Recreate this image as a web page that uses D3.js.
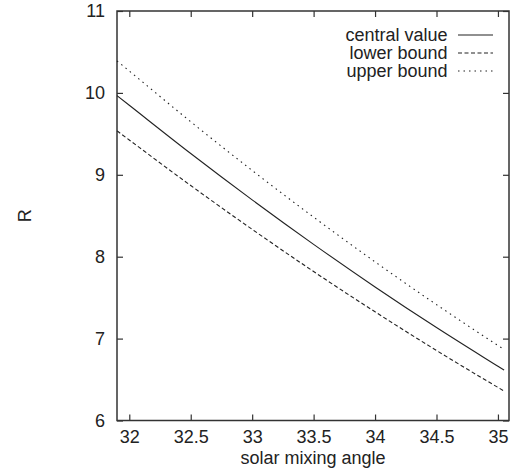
<!DOCTYPE html>
<html>
<head>
<meta charset="utf-8">
<script src="https://cdn.jsdelivr.net/npm/d3@7"></script>
<style>
  body { margin: 0; background: #fff; }
  text { font-family: "Liberation Sans", Arial, Helvetica, sans-serif; font-size: 18px; fill: #222; }
</style>
</head>
<body>
<script>
// data
const angles  = [31.9, 32, 32.5, 33, 33.5, 34, 34.5, 35, 35.05];
const central = [9.967, 9.849, 9.260, 8.694, 8.151, 7.631, 7.135, 6.662, 6.615];
const lower   = [9.537, 9.425, 8.869, 8.334, 7.819, 7.327, 6.855, 6.404, 6.360];
const upper   = [10.390, 10.267, 9.648, 9.053, 8.483, 7.937, 7.415, 6.916, 6.867];

const xTicks = [32, 32.5, 33, 33.5, 34, 34.5, 35];
const yTicks = [6, 7, 8, 9, 10, 11];

const seriesNames = ['central value', 'lower bound', 'upper bound'];
const seriesData = [central, lower, upper];
const dashes = [null, '4,2.5', '1.5,4'];

const width = 515, height = 473;
const plot = { left: 117, right: 509, top: 11, bottom: 420.5 };

const x = d3.scaleLinear().domain([31.9, 35.09]).range([plot.left, plot.right]);
const y = d3.scaleLinear().domain([6, 11]).range([plot.bottom, plot.top]);

const svg = d3.select('body').append('svg')
  .attr('width', width)
  .attr('height', height);

// axes (ticks inward, mirrored)
const tickLen = 6;
svg.append('g')
  .attr('transform', `translate(0,${plot.bottom})`)
  .call(d3.axisBottom(x).tickValues(xTicks).tickSize(-tickLen).tickPadding(10).tickFormat(d3.format('')))
  .call(g => g.select('.domain').remove());
svg.append('g')
  .attr('transform', `translate(0,${plot.top})`)
  .call(d3.axisTop(x).tickValues(xTicks).tickSize(-tickLen).tickFormat(''))
  .call(g => g.select('.domain').remove());
svg.append('g')
  .attr('transform', `translate(${plot.left},0)`)
  .call(d3.axisLeft(y).tickValues(yTicks).tickSize(-tickLen).tickPadding(12).tickFormat(d3.format('d')))
  .call(g => g.select('.domain').remove());
svg.append('g')
  .attr('transform', `translate(${plot.right},0)`)
  .call(d3.axisRight(y).tickValues(yTicks).tickSize(-tickLen).tickFormat(''))
  .call(g => g.select('.domain').remove());

svg.selectAll('.tick line').attr('stroke', '#333').attr('stroke-width', 1.2);
svg.selectAll('.tick text')
  .style('font-family', '"Liberation Sans", Arial, sans-serif')
  .style('font-size', '18px')
  .attr('fill', '#222');

// frame
svg.append('rect')
  .attr('x', plot.left).attr('y', plot.top)
  .attr('width', plot.right - plot.left)
  .attr('height', plot.bottom - plot.top)
  .attr('fill', 'none')
  .attr('stroke', '#333')
  .attr('stroke-width', 1.5);

// curves
const line = d3.line()
  .x((d, i) => x(angles[i]))
  .y(d => y(d))
  .curve(d3.curveMonotoneX);

svg.append('g').selectAll('path')
  .data(seriesData)
  .join('path')
  .attr('d', line)
  .attr('fill', 'none')
  .attr('stroke', '#222')
  .attr('stroke-width', 1.1)
  .attr('stroke-dasharray', (d, i) => dashes[i]);

// legend
const legend = svg.append('g');
seriesNames.forEach((name, i) => {
  const base = 41 + i * 18;
  legend.append('text')
    .attr('x', 447.5).attr('y', base)
    .attr('text-anchor', 'end')
    .text(name);
  legend.append('line')
    .attr('x1', 458).attr('x2', 493)
    .attr('y1', base - 6).attr('y2', base - 6)
    .attr('stroke', '#222')
    .attr('stroke-width', 1.1)
    .attr('stroke-dasharray', dashes[i]);
});

// axis labels
svg.append('text')
  .attr('x', (plot.left + plot.right) / 2)
  .attr('y', 464)
  .attr('text-anchor', 'middle')
  .text('solar mixing angle');

svg.append('text')
  .attr('transform', `translate(31,${(plot.top + plot.bottom) / 2}) rotate(-90)`)
  .attr('text-anchor', 'middle')
  .text('R');
</script>
</body>
</html>
